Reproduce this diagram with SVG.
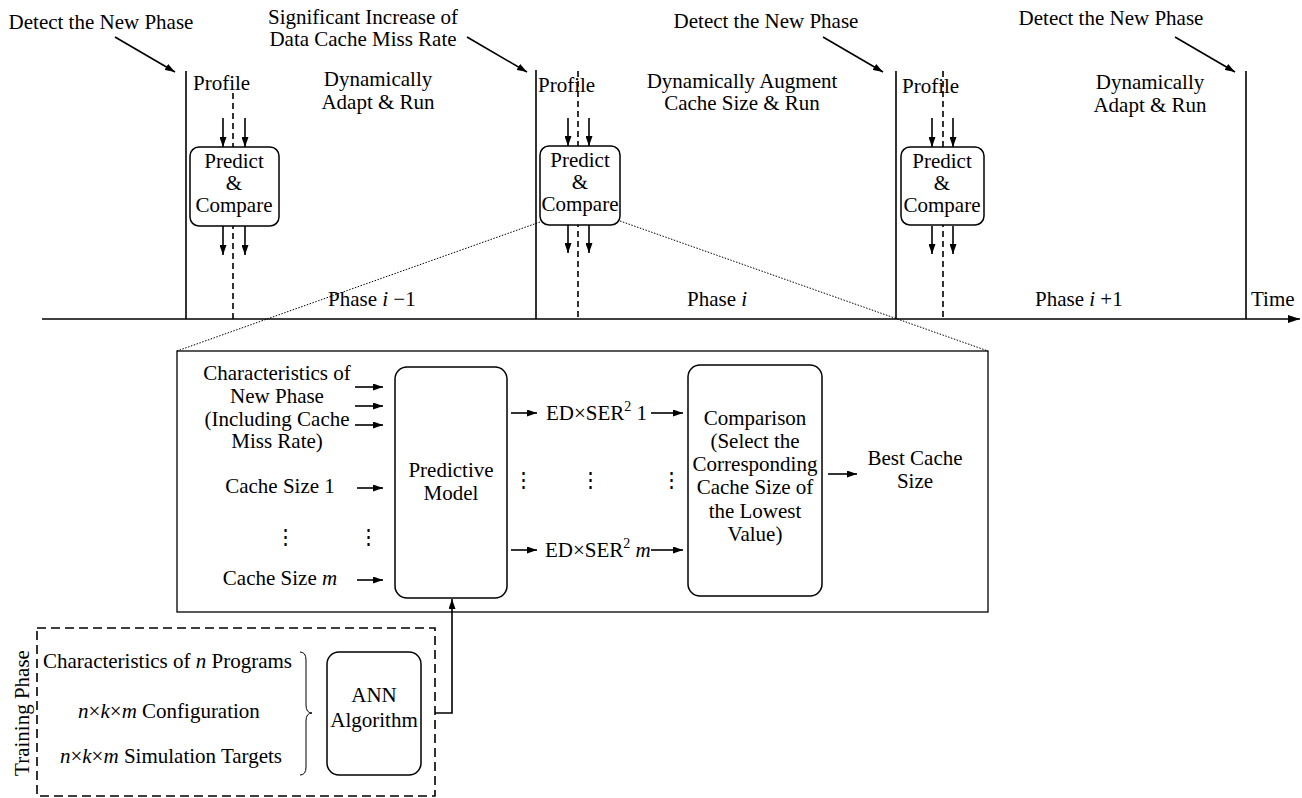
<svg xmlns="http://www.w3.org/2000/svg" width="1302" height="798" viewBox="0 0 1302 798">
<defs>
<marker id="ah" viewBox="0 0 12 8" refX="12" refY="4" markerWidth="12" markerHeight="8" markerUnits="userSpaceOnUse" orient="auto">
<path d="M0,0 L12,4 L0,8 Z" fill="#000"/>
</marker>
<marker id="ahs" viewBox="0 0 10 7" refX="10" refY="3.5" markerWidth="10" markerHeight="7" markerUnits="userSpaceOnUse" orient="auto">
<path d="M0,0 L10,3.5 L0,7 Z" fill="#000"/>
</marker>
<style>
text{font-family:"Liberation Serif","Times New Roman",serif;font-size:21px;fill:#000}
.m{text-anchor:middle}
.ln{stroke:#000;stroke-width:1.6;fill:none}
.dash{stroke:#000;stroke-width:1.6;stroke-dasharray:6 4;fill:none}
.dot{stroke:#000;stroke-width:1;stroke-dasharray:1.5 1.5;fill:none}
.arr{stroke:#000;stroke-width:1.6;fill:none;marker-end:url(#ahs)}
.box{fill:#fff;stroke:#000;stroke-width:1.5}
.i{font-style:italic}
</style>
</defs>
<rect width="1302" height="798" fill="#fff"/>

<g id="connectors">
<line class="ln" x1="42" y1="319" x2="1300" y2="319" marker-end="url(#ah)"/>
<line class="ln" x1="186" y1="71" x2="186" y2="319"/>
<line class="ln" x1="536" y1="70" x2="536" y2="319"/>
<line class="ln" x1="896" y1="71" x2="896" y2="319"/>
<line class="ln" x1="1246" y1="71" x2="1246" y2="319"/>
<line class="dash" x1="233" y1="93" x2="233" y2="320"/>
<line class="dash" x1="578" y1="71" x2="578" y2="320"/>
<line class="dash" x1="943" y1="71" x2="943" y2="320"/>
<line class="arr" x1="115" y1="37" x2="175" y2="72"/>
<line class="arr" x1="467" y1="37" x2="527" y2="72"/>
<line class="arr" x1="823" y1="37" x2="883" y2="72"/>
<line class="arr" x1="1175" y1="37" x2="1235" y2="72"/>
<line class="arr" x1="223" y1="118" x2="223" y2="147"/>
<line class="arr" x1="245" y1="118" x2="245" y2="147"/>
<line class="arr" x1="223" y1="226" x2="223" y2="255"/>
<line class="arr" x1="245" y1="226" x2="245" y2="255"/>
<line class="arr" x1="568" y1="118" x2="568" y2="146"/>
<line class="arr" x1="589" y1="118" x2="589" y2="146"/>
<line class="arr" x1="568" y1="225" x2="568" y2="253"/>
<line class="arr" x1="589" y1="225" x2="589" y2="253"/>
<line class="arr" x1="932" y1="118" x2="932" y2="147"/>
<line class="arr" x1="953" y1="118" x2="953" y2="147"/>
<line class="arr" x1="932" y1="226" x2="932" y2="254"/>
<line class="arr" x1="953" y1="226" x2="953" y2="254"/>
<line class="dot" x1="540" y1="222" x2="177" y2="351"/>
<line class="dot" x1="620" y1="221" x2="988" y2="351"/>
<line class="arr" x1="355" y1="387" x2="383" y2="387"/>
<line class="arr" x1="355" y1="406" x2="383" y2="406"/>
<line class="arr" x1="355" y1="425" x2="383" y2="425"/>
<line class="arr" x1="357" y1="488" x2="383" y2="488"/>
<line class="arr" x1="357" y1="580" x2="383" y2="580"/>
<line class="arr" x1="511" y1="413" x2="537" y2="413"/>
<line class="arr" x1="511" y1="550" x2="537" y2="550"/>
<line class="arr" x1="651" y1="413" x2="683" y2="413"/>
<line class="arr" x1="651" y1="550" x2="683" y2="550"/>
<line class="arr" x1="828" y1="474" x2="857" y2="474"/>
<path class="arr" d="M435,713 L452,713 L452,599"/>
</g>

<g id="bigbox"><rect x="177" y="351" width="811" height="261" fill="none" stroke="#000" stroke-width="1.3"/></g>

<g id="labels-top">
<text class="m" x="101" y="29">Detect the New Phase</text>
<text class="m" x="363" y="24">Significant Increase of</text>
<text class="m" x="363" y="46">Data Cache Miss Rate</text>
<text class="m" x="766" y="28">Detect the New Phase</text>
<text class="m" x="1111" y="25">Detect the New Phase</text>
<text x="193" y="90">Profile</text>
<text x="538" y="92">Profile</text>
<text x="902" y="93">Profile</text>
<text class="m" x="378" y="86">Dynamically</text>
<text class="m" x="378" y="109">Adapt &amp; Run</text>
<text class="m" x="742" y="88">Dynamically Augment</text>
<text class="m" x="742" y="110">Cache Size &amp; Run</text>
<text class="m" x="1150" y="89">Dynamically</text>
<text class="m" x="1150" y="112">Adapt &amp; Run</text>
<text x="328" y="306">Phase <tspan class="i">i</tspan> −1</text>
<text class="m" x="717" y="306">Phase <tspan class="i">i</tspan></text>
<text x="1035" y="306">Phase <tspan class="i">i</tspan> +1</text>
<text x="1251" y="306">Time</text>
</g>

<g id="predict1">
<rect class="box" x="190" y="147" width="89" height="79" rx="9"/>
<text class="m" x="234" y="168">Predict</text>
<text class="m" x="234" y="190">&amp;</text>
<text class="m" x="234" y="212">Compare</text>
</g>
<g id="predict2">
<rect class="box" x="540" y="146" width="80" height="79" rx="9"/>
<text class="m" x="580" y="167">Predict</text>
<text class="m" x="580" y="189">&amp;</text>
<text class="m" x="580" y="211">Compare</text>
</g>
<g id="predict3">
<rect class="box" x="901" y="147" width="83" height="78" rx="9"/>
<text class="m" x="942" y="168">Predict</text>
<text class="m" x="942" y="190">&amp;</text>
<text class="m" x="942" y="212">Compare</text>
</g>

<g id="inputs">
<text class="m" x="277" y="380">Characteristics of</text>
<text class="m" x="277" y="403">New Phase</text>
<text class="m" x="277" y="426">(Including Cache</text>
<text class="m" x="277" y="448">Miss Rate)</text>
<text class="m" x="280" y="493">Cache Size 1</text>
<text class="m" x="280" y="585">Cache Size <tspan class="i">m</tspan></text>
<text class="m" x="285" y="544">⋮</text>
<text class="m" x="368" y="544">⋮</text>
</g>

<g id="predictive-model">
<rect class="box" x="395" y="367" width="112" height="231" rx="12"/>
<text class="m" x="451" y="477">Predictive</text>
<text class="m" x="451" y="500">Model</text>
</g>

<g id="outputs">
<text x="546" y="420">ED×SER<tspan font-size="14" dy="-9">2</tspan><tspan dy="9"> 1</tspan></text>
<text x="545" y="557">ED×SER<tspan font-size="14" dy="-9">2</tspan><tspan dy="9"> </tspan><tspan class="i">m</tspan></text>
<text class="m" x="523" y="487">⋮</text>
<text class="m" x="590" y="487">⋮</text>
<text class="m" x="671" y="487">⋮</text>
</g>

<g id="comparison">
<rect class="box" x="688" y="365" width="134" height="231" rx="12"/>
<text class="m" x="755" y="425">Comparison</text>
<text class="m" x="755" y="448">(Select the</text>
<text class="m" x="755" y="471">Corresponding</text>
<text class="m" x="755" y="494">Cache Size of</text>
<text class="m" x="755" y="518">the Lowest</text>
<text class="m" x="755" y="541">Value)</text>
</g>

<g id="best">
<text class="m" x="915" y="465">Best Cache</text>
<text class="m" x="915" y="488">Size</text>
</g>

<g id="training">
<rect x="37" y="628" width="398" height="168" fill="none" stroke="#000" stroke-width="1.6" stroke-dasharray="9 5"/>
<text class="m" transform="translate(29,713) rotate(-90)">Training Phase</text>
<text x="43" y="668">Characteristics of <tspan class="i">n</tspan> Programs</text>
<text class="m" x="169" y="718"><tspan class="i">n</tspan>×<tspan class="i">k</tspan>×<tspan class="i">m</tspan> Configuration</text>
<text class="m" x="171" y="763"><tspan class="i">n</tspan>×<tspan class="i">k</tspan>×<tspan class="i">m</tspan> Simulation Targets</text>
<path d="M300,652 Q306,652 306,660 L306,705 Q306,713 312,713 Q306,713 306,721 L306,767 Q306,775 300,775" fill="none" stroke="#000" stroke-width="1"/>
</g>

<g id="ann">
<rect class="box" x="327" y="652" width="94" height="123" rx="12"/>
<text class="m" x="374" y="702">ANN</text>
<text class="m" x="374" y="727">Algorithm</text>
</g>
</svg>
